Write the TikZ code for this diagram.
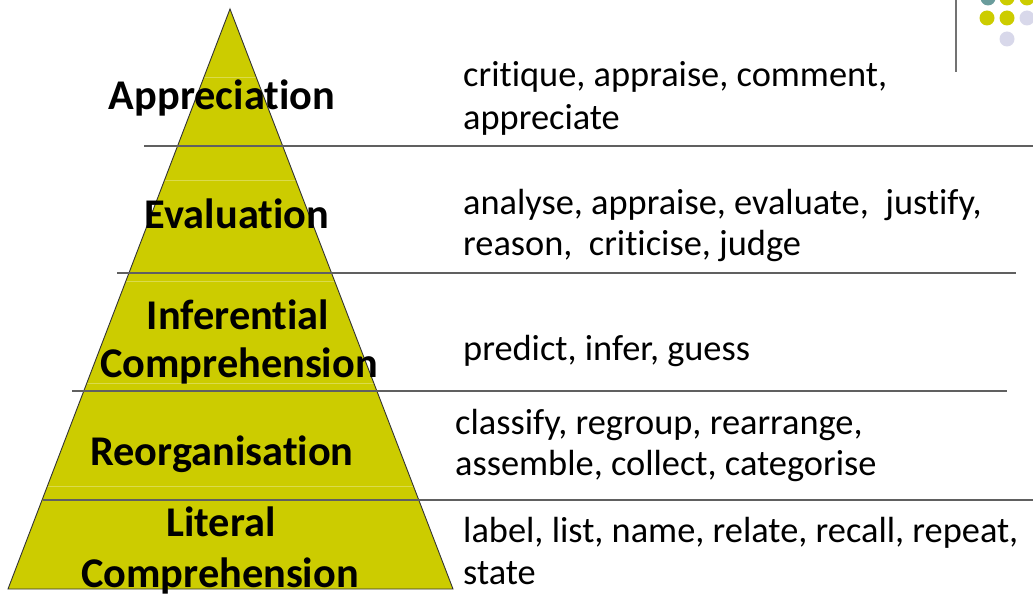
\documentclass[tikz,border=0pt]{standalone}
\usepackage{fontspec}
\setmainfont{Carlito}[Ligatures=NoCommon]
\definecolor{pyr}{HTML}{CCCC00}
\definecolor{teal1}{HTML}{6A9C9C}
\definecolor{lav}{HTML}{D8D8EA}
\definecolor{rule}{HTML}{606060}
\begin{document}
\begin{tikzpicture}[x=1bp,y=-1bp,
  lvl/.style={font=\fontsize{42.5}{48}\selectfont\bfseries, anchor=base, inner sep=0pt},
  verb/.style={font=\fontsize{36.5}{42}\selectfont, anchor=base west, inner sep=0pt},
  sep/.style={draw=rule, line width=1.3bp},
  dot/.style={circle, minimum size=15bp, inner sep=0pt}]
\useasboundingbox (0,0) rectangle (1033,596);
% pyramid
\coordinate (apex) at (230,9);
\coordinate (bl) at (8,589);
\coordinate (br) at (453,589);
\fill[pyr] (apex) -- (br) -- (bl) -- cycle;
\begin{scope}
\clip (apex) -- (br) -- (bl) -- cycle;
\foreach \yy in {77,180,281,383,486}
  \draw[white!30!pyr, line width=0.5bp] (0,\yy) -- (500,\yy);
\end{scope}
\draw[black!80, line width=0.9bp] (apex) -- (br) -- (bl) -- cycle;
% separators
\coordinate (s1a) at (144,146); \coordinate (s1b) at (1033,146);
\coordinate (s2a) at (117,273); \coordinate (s2b) at (1016,273);
\coordinate (s3a) at (72,391);  \coordinate (s3b) at (1007,391);
\coordinate (s4a) at (43,500);  \coordinate (s4b) at (1033,500);
\draw[sep] (s1a) -- (s1b);
\draw[sep] (s2a) -- (s2b);
\draw[sep] (s3a) -- (s3b);
\draw[sep] (s4a) -- (s4b);
% level labels
\node[lvl] (appr) at (222,110) {Appreciation};
\node[lvl] (eval) at (237,229) {Evaluation};
\node[lvl] (inf1) at (238,329) {Inferential};
\node[lvl] (inf2) at (239,377) {Comprehension};
\node[lvl] (reor) at (222,465) {Reorganisation};
\node[lvl] (lit1) at (221,536) {Literal};
\node[lvl] (lit2) at (220,587) {Comprehension};
% verbs
\node[verb] (v1a) at (463,87) {critique, appraise, comment,};
\node[verb] (v1b) at (463,130) {appreciate};
\node[verb] (v2a) at (463,215) {analyse, appraise, evaluate,\ \ justify,};
\node[verb] (v2b) at (463,256) {reason,\ \ criticise, judge};
\node[verb] (v3a) at (463,360) {predict, infer, guess};
\node[verb] (v4a) at (455,434) {classify, regroup, rearrange,};
\node[verb] (v4b) at (455,475) {assemble, collect, categorise};
\node[verb] (v5a) at (463,542) {label, list, name, relate, recall, repeat,};
\node[verb] (v5b) at (463,584) {state};
% corner decoration
\coordinate (vt) at (956,0); \coordinate (vb) at (956,72);
\draw[draw=black!55, line width=1.3bp] (vt) -- (vb);
\node[dot, fill=teal1] (d11) at (988,-2) {};
\node[dot, fill=pyr] (d12) at (1007,-2) {};
\node[dot, fill=pyr] (d13) at (1027,-2) {};
\node[dot, fill=pyr] (d21) at (987,18) {};
\node[dot, fill=pyr] (d22) at (1007,18) {};
\node[dot, fill=lav] (d23) at (1027,18) {};
\node[dot, fill=lav] (d32) at (1007,39) {};
\end{tikzpicture}
\end{document}
